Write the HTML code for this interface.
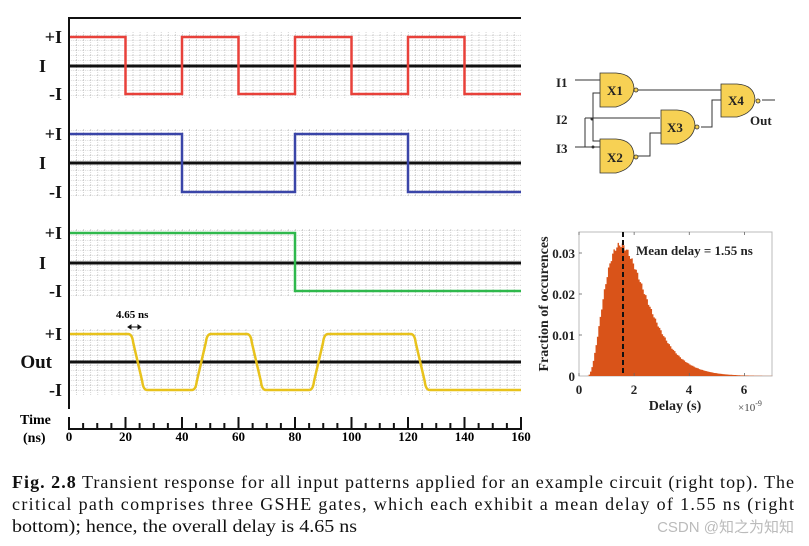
<!DOCTYPE html>
<html><head><meta charset="utf-8"><style>
html,body{margin:0;padding:0;background:#fff;}
svg{display:block;font-family:"Liberation Serif",serif;}
</style></head><body>
<svg id="s" width="809" height="546" viewBox="0 0 809 546" xmlns="http://www.w3.org/2000/svg">
<defs>
<pattern id="g" x="69" y="0" width="7.06" height="5" patternUnits="userSpaceOnUse">
<path d="M0 0.5H7.06" stroke="#bbb" stroke-width="0.6" stroke-dasharray="1 1"/>
<path d="M0.5 0V5" stroke="#bbb" stroke-width="0.6" stroke-dasharray="1 1"/>
</pattern>
</defs>
<g id="plots"></g>
<path d="M69 409V18H521" fill="none" stroke="#111" stroke-width="2"/>
<g font-weight="bold" font-size="18" fill="#111" text-anchor="end">
<text x="62" y="43">+I</text><text x="46" y="72">I</text><text x="62" y="100">-I</text>
<text x="62" y="140">+I</text><text x="46" y="169">I</text><text x="62" y="198">-I</text>
<text x="62" y="239">+I</text><text x="46" y="269">I</text><text x="62" y="297">-I</text>
<text x="62" y="340">+I</text><text x="52" y="368" font-size="19">Out</text><text x="62" y="396">-I</text>
</g>
<text x="20" y="424" font-size="14" font-weight="bold">Time</text>
<text x="23" y="442" font-size="14" font-weight="bold">(ns)</text>
<text x="116" y="318" font-size="11" font-weight="bold">4.65 ns</text>
<path d="M128 327H141M128 327l3-2v4zM141 327l-3-2v4z" stroke="#111" fill="#111" stroke-width="1"/>
<g id="ticks" stroke="#111" stroke-width="2"></g>
<g id="tl" font-size="13" font-weight="bold" text-anchor="middle"></g>

<g stroke="#333" stroke-width="1" fill="none">
<path d="M575 80H600M600 93H593V141H600M585 118H660M585 118V147H600M575 147H600M637 90H724M634 156H650V133H662M701 127H712V100H724M762 100H775"/>
</g>
<g fill="#f7d154" stroke="#333" stroke-width="0.8">
<path d="M600 73H616Q633 74 634 88Q633 102 616 107H600Z"/>
<path d="M600 139H616Q633 140 634 155Q633 169 616 173H600Z"/>
<path d="M661 110H677Q694 111 695 125Q694 139 677 144H661Z"/>
<path d="M721 84H737Q754 85 755 99Q754 113 737 117H721Z"/>
<circle cx="636" cy="90" r="2"/><circle cx="636" cy="157" r="2"/><circle cx="697" cy="127" r="2"/><circle cx="758" cy="101" r="2"/>
</g>
<circle cx="592" cy="119" r="1.5" fill="#333"/><circle cx="593" cy="147" r="1.5" fill="#333"/>
<g font-size="13" font-weight="bold" fill="#222">
<text x="556" y="87">I1</text><text x="556" y="124">I2</text><text x="556" y="153">I3</text>
<text x="607" y="95">X1</text><text x="607" y="162">X2</text><text x="667" y="132">X3</text><text x="728" y="105">X4</text>
<text x="750" y="125">Out</text>
</g>

<rect x="579" y="232" width="193" height="144" fill="none" stroke="#bbb" stroke-width="1"/>
<path id="hist" fill="#d95319"/>
<line x1="623" y1="232" x2="623" y2="376" stroke="#111" stroke-width="2" stroke-dasharray="5 3"/>
<g stroke="#666" stroke-width="0.8" id="hticks"></g>
<g font-size="13" font-weight="bold" fill="#222">
<text x="636" y="255">Mean delay = 1.55 ns</text>
<text x="575" y="258" text-anchor="end">0.03</text>
<text x="575" y="299" text-anchor="end">0.02</text>
<text x="575" y="340" text-anchor="end">0.01</text>
<text x="575" y="381" text-anchor="end">0</text>
<text x="579" y="394" text-anchor="middle">0</text>
<text x="634" y="394" text-anchor="middle">2</text>
<text x="689" y="394" text-anchor="middle">4</text>
<text x="744" y="394" text-anchor="middle">6</text>
<text x="675" y="410" text-anchor="middle" font-size="14">Delay (s)</text>
<text transform="translate(548 304) rotate(-90)" text-anchor="middle" font-size="14">Fraction of occurences</text>
</g>
<text x="738" y="411" font-size="11" fill="#444">×10<tspan dy="-5" font-size="8">-9</tspan></text>

<g font-size="18" fill="#111">
<text x="12" y="488" textLength="782" lengthAdjust="spacing"><tspan font-weight="bold">Fig. 2.8</tspan>  Transient response for all input patterns applied for an example circuit (right top). The</text>
<text x="12" y="510" textLength="782" lengthAdjust="spacing">critical path comprises three GSHE gates, which each exhibit a mean delay of 1.55 ns (right</text>
<text x="12" y="532" textLength="345" lengthAdjust="spacingAndGlyphs">bottom); hence, the overall delay is 4.65 ns</text>
</g>
<text x="794" y="532" font-size="15" fill="#bbb" text-anchor="end" font-family="Liberation Sans,'Noto Sans CJK SC',sans-serif">CSDN @知之为知知</text>
</svg>
<script>
function X(t){return 69+t*2.825;}
var P=document.getElementById('plots'),h='';
var panels=[[37,66,94,'#e8413a',[[0,1],[20,0],[40,1],[60,0],[80,1],[100,0],[120,1],[140,0]]],
[134,163,192,'#3a45a8',[[0,1],[40,0],[80,1],[120,0]]],
[233,263,291,'#2fb84c',[[0,1],[80,0]]]];
var all=[[37,66,94],[134,163,192],[233,263,291],[334,362,390]];
all.forEach(function(p){h+='<rect x="70" y="'+(p[0]-5)+'" width="451" height="'+(p[2]-p[0]+10)+'" fill="url(#g)"/>';
h+='<line x1="69" x2="521" y1="'+p[1]+'" y2="'+p[1]+'" stroke="#111" stroke-width="3"/>';});
panels.forEach(function(p){var d='',tr=p[4];for(var i=0;i<tr.length;i++){var y=tr[i][1]?p[0]:p[2];var x=X(tr[i][0]);d+=(i?'L'+x+' ':'M'+x+' ')+y;var xe=i<tr.length-1?X(tr[i+1][0]):521;d+='L'+xe+' '+y;}
h+='<path d="'+d+'" fill="none" stroke="'+p[3]+'" stroke-width="2.5"/>';});
var hi=334,lo=390,ed=[[22,0],[44.5,1],[64,0],[86,1],[122,0]];
var d='M69 '+hi,cur=1;
ed.forEach(function(e){var x=X(e[0]),x2=X(e[0]+4.65),yA=cur?hi:lo,yB=cur?lo:hi;
d+='L'+(x-3)+' '+yA+'Q'+(x+1)+' '+yA+' '+(x+2)+' '+(yA+(yB-yA)*0.15)+'L'+(x2-2)+' '+(yB-(yB-yA)*0.15)+'Q'+(x2-1)+' '+yB+' '+(x2+3)+' '+yB;cur=e[1];});
d+='L521 '+lo;
h+='<path d="'+d+'" fill="none" stroke="#e8c21c" stroke-width="2.5"/>';
P.innerHTML=h;
var t='',l='';for(var i=0;i<=32;i++){var x=X(i*5);var big=i%4==0;t+='<line x1="'+x+'" x2="'+x+'" y1="'+(big?417:423)+'" y2="430"/>';if(big)l+='<text x="'+x+'" y="441">'+(i*5)+'</text>';}
t+='<line x1="68" x2="521" y1="429" y2="429"/>';
document.getElementById('ticks').innerHTML=t;document.getElementById('tl').innerHTML=l;
var hd='M579 376',bw=0.05;
for(var x=0;x<7;x+=bw){var tt=x+bw/2-0.3,v=0;if(tt>0){v=0.032*Math.pow(tt/1.2,2.5)*Math.exp(-(tt-1.2)/0.48);}
v*=1+0.02*Math.sin(x*37);var y=376-v/0.01*41;var px=579+x*27.57;hd+='L'+px+' '+y+'L'+(px+bw*27.57)+' '+y;}
hd+='L772 376Z';document.getElementById('hist').setAttribute('d',hd);
var ht='';[0,2,4,6].forEach(function(v){var x=579+v*27.57;ht+='<line x1="'+x+'" x2="'+x+'" y1="376" y2="373"/><line x1="'+x+'" x2="'+x+'" y1="232" y2="235"/>';});
[253,294,335].forEach(function(y){ht+='<line x1="579" x2="582" y1="'+y+'" y2="'+y+'"/>';});
document.getElementById('hticks').innerHTML=ht;
</script>
</body></html>
